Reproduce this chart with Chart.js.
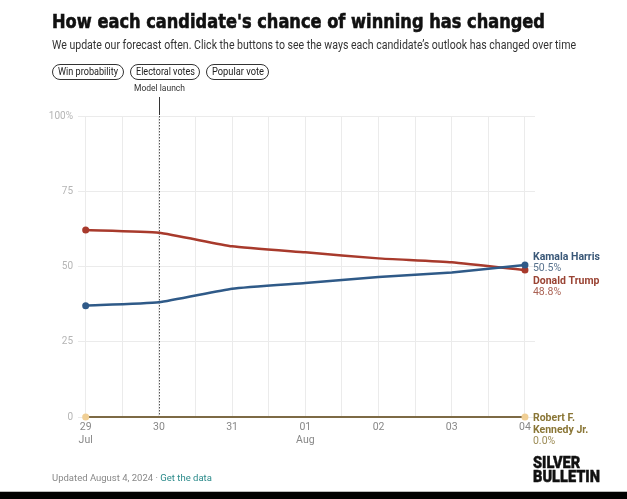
<!DOCTYPE html>
<html>
<head>
<meta charset="utf-8">
<script src="https://cdn.jsdelivr.net/npm/chart.js@4"></script>
<style>
  html, body { margin: 0; padding: 0; background: #fff; }
  body { width: 627px; height: 499px; position: relative; overflow: hidden; font-family: Roboto, "Liberation Sans", sans-serif; }
  #chartWrap { position: absolute; left: 0; top: 0; width: 627px; height: 499px; }
  .fit { position: absolute; white-space: nowrap; transform-origin: 0 0; }
  #title { left: 52px; top: 10px; font-family: "DejaVu Sans", sans-serif; font-weight: bold; font-size: 19px; color: #111; -webkit-text-stroke: 0.6px #111; }
  #subtitle { left: 52px; top: 38px; font-size: 12px; color: #333; }
  .btn { position: absolute; top: 64px; height: 14px; border: 1px solid #333; border-radius: 8px; color: #222; white-space: nowrap; }
  .btn .fit { top: 0; font-size: 11px; line-height: 14px; }
  #footer { position: absolute; left: 52px; top: 472px; font-size: 9.5px; color: #888; }
  #footer span { color: #2a8a8a; }
  #logo { left: 533px; top: 456px; font-weight: 900; font-size: 16px; line-height: 14px; color: #111; -webkit-text-stroke: 0.4px #111; }
  #bar { position: absolute; left: 0; top: 491px; width: 627px; height: 8px; background: #000; border-top: 1px solid #bbb; }
</style>
</head>
<body>
<div id="chartWrap"><canvas id="c" width="627" height="499"></canvas></div>
<div id="title" class="fit" data-w="493">How each candidate's chance of winning has changed</div>
<div id="subtitle" class="fit" data-w="524">We update our forecast often. Click the buttons to see the ways each candidate’s outlook has changed over time</div>
<div class="btn" style="left:52px;width:70px;"><span class="fit" style="left:5px" data-w="60">Win probability</span></div>
<div class="btn" style="left:130px;width:68px;"><span class="fit" style="left:5px" data-w="59">Electoral votes</span></div>
<div class="btn" style="left:206px;width:61px;"><span class="fit" style="left:5px" data-w="52">Popular vote</span></div>
<div id="footer">Updated August 4, 2024 · <span>Get the data</span></div>
<div id="logo" class="fit" data-w="67">SILVER<br>BULLETIN</div>
<div id="bar"></div>
<script>
// ---- data ----
const days = [0, 1, 2, 3, 4, 5, 6];
const dayLabels = [["29", "Jul"], "30", "31", ["01", "Aug"], "02", "03", "04"];
const harris = [37.0, 38.1, 42.6, 44.5, 46.5, 48.0, 50.5];
const trump  = [62.1, 61.2, 56.7, 54.7, 52.7, 51.4, 48.8];
const rfk    = [0, 0, 0, 0, 0, 0, 0];
const seriesNames = ["Kamala Harris", "Donald Trump", "Robert F. Kennedy Jr."];
const endLabels = [["Kamala Harris"], ["Donald Trump"], ["Robert F.", "Kennedy Jr."]];
const yTicks = [0, 25, 50, 75, 100];
const modelLaunchDay = 1;

// fit text widths
document.querySelectorAll('.fit').forEach(el => {
  const target = +el.dataset.w;
  const w = el.getBoundingClientRect().width;
  el.style.transform = 'scaleX(' + (target / w) + ')';
});

const colors = {
  harris: '#2f5a88', trump: '#a83a2c', rfkLine: '#7d6a45', rfkPt: '#f0cf95',
  harrisTxt: '#3a5878', trumpTxt: '#9a4434', rfkTxt: '#8a7636'
};

function mk(arr) { return arr.map((v, i) => ({ x: days[i], y: v })); }
function endRadius(n) { return days.map((d, i) => (i === 0 || i === days.length - 1) ? n : 0); }

const endLabelPlugin = {
  id: 'endLabels',
  afterDatasetsDraw(chart) {
    const ctx = chart.ctx;
    const xs = chart.scales.x, ys = chart.scales.y;
    const last = days.length - 1;
    const x = xs.getPixelForValue(days[last]) + 8;
    const specs = [
      { ds: 0, nameCol: colors.harrisTxt, off: -8, val: harris[last] },
      { ds: 1, nameCol: colors.trumpTxt, off: 11, val: trump[last] },
      { ds: 2, nameCol: colors.rfkTxt, off: 1, val: rfk[last] }
    ];
    ctx.save();
    ctx.textAlign = 'left';
    ctx.textBaseline = 'middle';
    specs.forEach(s => {
      let y = ys.getPixelForValue(s.val) + s.off;
      ctx.font = 'bold 10.5px Roboto';
      ctx.fillStyle = s.nameCol;
      endLabels[s.ds].forEach(line => { ctx.fillText(line, x, y); y += 12; });
      ctx.font = '10.5px Roboto';
      ctx.globalAlpha = 0.85;
      ctx.fillText(s.val.toFixed(1) + '%', x, y - 1);
      ctx.globalAlpha = 1;
    });
    ctx.restore();
  }
};

const launchPlugin = {
  id: 'launch',
  beforeDatasetsDraw(chart) {
    const ctx = chart.ctx, xs = chart.scales.x, a = chart.chartArea;
    const x = Math.round(xs.getPixelForValue(modelLaunchDay)) + 0.5;
    ctx.save();
    ctx.strokeStyle = '#555';
    ctx.lineWidth = 1;
    ctx.setLineDash([1.5, 1.5]);
    ctx.beginPath(); ctx.moveTo(x, a.top); ctx.lineTo(x, a.bottom); ctx.stroke();
    ctx.setLineDash([]);
    ctx.strokeStyle = '#333';
    ctx.beginPath(); ctx.moveTo(x, a.top - 19); ctx.lineTo(x, a.top - 1); ctx.stroke();
    ctx.fillStyle = '#333';
    ctx.font = '8.5px Roboto';
    ctx.textAlign = 'center';
    ctx.textBaseline = 'middle';
    ctx.fillText('Model launch', x, a.top - 27);
    ctx.restore();
  }
};

new Chart(document.getElementById('c'), {
  type: 'line',
  data: {
    datasets: [
      { label: seriesNames[0], data: mk(harris), borderColor: colors.harris, backgroundColor: colors.harris,
        borderWidth: 2.5, pointRadius: endRadius(3.5), pointBorderWidth: 0, tension: 0.15 },
      { label: seriesNames[1], data: mk(trump), borderColor: colors.trump, backgroundColor: colors.trump,
        borderWidth: 2.5, pointRadius: endRadius(3.5), pointBorderWidth: 0, tension: 0.15 },
      { label: seriesNames[2], data: mk(rfk), borderColor: colors.rfkLine, backgroundColor: colors.rfkPt,
        borderWidth: 2, pointRadius: endRadius(3.5), pointBorderWidth: 0 }
    ]
  },
  options: {
    responsive: false,
    animation: false,
    clip: false,
    layout: { padding: { left: 0, top: 116, right: 92, bottom: 42 } },
    plugins: { legend: { display: false }, tooltip: { enabled: false } },
    scales: {
      x: {
        type: 'linear', min: -0.105, max: 6.137,
        afterBuildTicks(scale) {
          const t = [];
          for (let v = 0; v <= 6; v += 0.5) t.push({ value: v });
          scale.ticks = t;
        },
        afterFit(scale) { scale.height = 40; },
        border: { display: false },
        grid: { color: '#ebebeb', lineWidth: 1, drawTicks: false },
        ticks: {
          autoSkip: false, maxRotation: 0, padding: 4,
          color: '#888', font: { family: 'Roboto', size: 10.5 }, lineHeight: 1.1,
          callback(v) { return Number.isInteger(v) ? dayLabels[v] : ''; }
        }
      },
      y: {
        min: 0, max: 100,
        afterBuildTicks(scale) { scale.ticks = yTicks.map(v => ({ value: v })); },
        afterFit(scale) { scale.width = 78; },
        border: { display: false },
        grid: { color: '#ebebeb', lineWidth: 1, drawTicks: false },
        ticks: {
          padding: 5, color: '#b5b5b5', font: { family: 'Roboto', size: 10 },
          callback(v) { return v === 100 ? '100%' : String(v); }
        }
      }
    }
  },
  plugins: [launchPlugin, endLabelPlugin]
});
</script>
</body>
</html>
